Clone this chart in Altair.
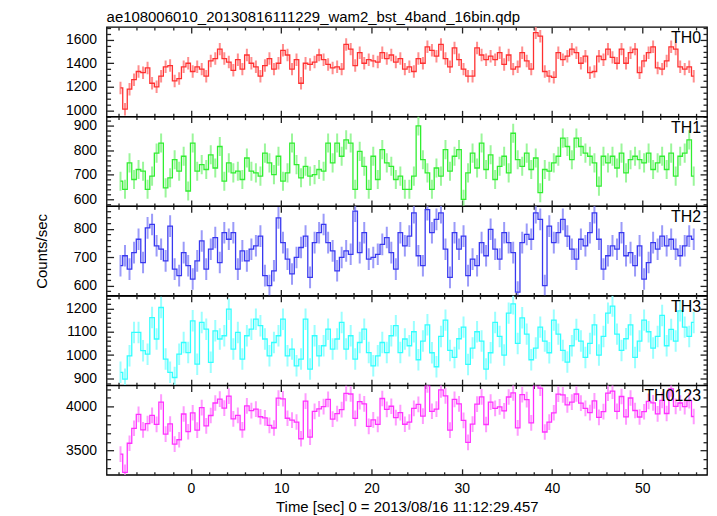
import altair as alt
import pandas as pd

FONT = "Liberation Sans"
TITLE = "ae108006010_20130816111229_wam2_bst_4band_16bin.qdp"
XTITLE = "Time [sec] 0 = 2013/08/16 11:12:29.457"
YTITLE = "Counts/sec"

t_start = -7.8
bin_width = 0.5

names = ["TH0", "TH1", "TH2", "TH3", "TH0123"]

th0 = [1190, 1010, 1180, 1260, 1330, 1320, 1360, 1230, 1200, 1290,
       1370, 1380, 1250, 1270, 1370, 1400, 1330, 1370, 1350, 1290,
       1420, 1440, 1520, 1440, 1410, 1340, 1430, 1350, 1470, 1400,
       1370, 1290, 1380, 1440, 1350, 1400, 1510, 1470, 1350, 1430,
       1230, 1400, 1390, 1410, 1470, 1430, 1390, 1360, 1370, 1350,
       1560, 1520, 1380, 1490, 1400, 1430, 1420, 1410, 1490, 1440,
       1470, 1410, 1440, 1350,
       1370, 1330, 1440, 1400, 1540, 1510, 1460, 1560, 1440, 1370,
       1530, 1430, 1350, 1290, 1290, 1530, 1470, 1430, 1460, 1430,
       1490, 1390, 1470, 1350, 1370, 1490, 1420, 1350, 1660, 1630,
       1330, 1290, 1280, 1490, 1430, 1460, 1520, 1490, 1400, 1460,
       1320, 1330, 1460, 1430, 1520, 1450, 1400, 1520, 1400, 1490,
       1520, 1320, 1420, 1490, 1540, 1360, 1350, 1420, 1540, 1520,
       1370, 1350, 1370, 1290]

th1 = [674, 641, 749, 681, 722, 715, 641, 695, 789, 830,
       647, 688, 762, 715, 776, 634, 830, 715, 742, 722,
       782, 728, 816, 674, 749, 708, 715, 681, 769, 715,
       708, 695, 789, 749, 701, 776, 674, 708, 830, 742,
       688, 735, 695, 701, 722, 715, 830, 749, 830, 776,
       843, 830, 641, 796, 735, 641, 776, 681, 803, 749,
       735, 681, 695, 641,
       641, 695, 900, 762, 708, 641, 728, 695, 803, 715,
       776, 803, 600, 708, 789, 728, 830, 722, 782, 681,
       735, 776, 708, 870, 762, 735, 789, 722, 769, 627,
       722, 715, 749, 776, 850, 816, 762, 850, 816, 789,
       776, 749, 654, 776, 749, 776, 728, 789, 708, 762,
       776, 762, 749, 789, 722, 749, 776, 722, 789, 695,
       776, 789, 843, 695]

th2 = [670, 705, 658, 716, 763, 681, 803, 815, 740, 728,
       687, 809, 658, 635, 716, 670, 623, 687, 757, 658,
       728, 769, 681, 786, 763, 786, 658, 722, 687, 728,
       740, 774, 635, 600, 652, 838, 751, 693, 641, 699,
       734, 774, 629, 751, 786, 815, 751, 722, 652, 699,
       722, 710, 862, 716, 786, 693, 699, 710, 745, 769,
       716, 658, 786, 740,
       774, 856, 705, 670, 867, 786, 833, 856, 728, 629,
       786, 728, 774, 635, 693, 670, 751, 705, 798, 728,
       693, 786, 751, 716, 577, 751, 780, 763, 856, 833,
       600, 809, 751, 786, 833, 774, 728, 693, 763, 740,
       786, 856, 763, 658, 705, 740, 728, 786, 705, 716,
       670, 740, 623, 681, 751, 728, 774, 740, 763, 728,
       705, 740, 774, 763]

th3 = [926, 897, 997, 1097, 1097, 1019, 1004, 1161, 1069, 1204,
       983, 926, 904, 1004, 1054, 1011, 1147, 961, 1140, 1111,
       969, 1104, 1069, 1083, 1197, 1026, 1097, 983, 1083, 1111,
       1154, 1126, 1069, 997, 1054, 1083, 1154, 997, 1026, 954,
       983, 1154, 940, 1083, 997, 1040, 1111, 1026, 1069, 1140,
       1026, 1083, 983, 1054, 1111, 1011, 954, 997, 1054, 1011,
       1083, 1126, 1011, 1069,
       1040, 1100, 980, 1060, 1130, 1010, 950, 1080, 1150, 1020,
       990, 1070, 1120, 960, 1030, 1100, 1060, 940, 1010, 1140,
       1080, 1000, 1180, 1220, 1050, 1160, 1090, 980, 1030, 1120,
       1060, 1010, 1150, 1090, 1020, 970, 1040, 1110, 1060, 990,
       1050, 1130, 1000, 1080, 1180, 1210, 1090, 1020, 1070, 1130,
       990, 1060, 1150, 1100, 1030, 1080, 1170, 1040, 1110, 1060,
       1190, 1120, 1080, 1140]

th0123 = [3460, 3253, 3584, 3754, 3912, 3735, 3808, 3901, 3798, 4052,
          3687, 3803, 3574, 3624, 3916, 3715, 3930, 3733, 3989, 3781,
          3899, 4041, 4086, 3983, 4119, 3860, 3900, 3736, 4009, 3954,
          3972, 3885, 3873, 3786, 3757, 4097, 4089, 3868, 3847, 3825,
          3635, 4063, 3654, 3945, 3975, 4000, 4082, 3857, 3921, 3965,
          4151, 4143, 3866, 4056, 4032, 3775, 3849, 3798, 4092, 3969,
          4004, 3875, 3932, 3800,
          3825, 3981, 4025, 3892, 4245, 3947, 3971, 4191, 4121, 3734,
          4082, 4031, 3844, 3593, 3802, 4028, 4111, 3797, 4050, 3979,
          3998, 3952, 4109, 4156, 3759, 4136, 4079, 3815, 4315, 4210,
          3712, 3824, 3930, 4142, 4133, 4020, 4050, 4143, 4039, 3979,
          3932, 4065, 3877, 3944, 4154, 4176, 3946, 4115, 3883, 4098,
          3956, 3882, 3942, 4060, 4043, 3917, 4070, 3922, 4202, 4003,
          4041, 3999, 4067, 3888]

series = [th0, th1, th2, th3, th0123]
errors = [53, 39, 38, 46, 89]

x_domain = [-9.34, 57.17]
y_domains = [[949, 1708], [573, 938], [565, 879], [871, 1254], [3226, 4240]]
y_major_step = [200, 100, 100, 100, 500]
y_minor_step = [50, 20, 20, 20, 100]

line_colors = ["#ff3030", "#30ee30", "#3838f0", "#30ffff", "#ff30ff"]
bar_colors = ["#ff7a7a", "#8af58a", "#8a8af8", "#8affff", "#ff8aff"]

W = 603
H = 89.7


def tick_values(lo, hi, step):
    start = int(-(-lo // step)) * step
    out = []
    v = start
    while v <= hi:
        out.append(v)
        v += step
    return out


x_major = [v for v in tick_values(x_domain[0], x_domain[1], 10)]
x_minor = [v for v in tick_values(x_domain[0], x_domain[1], 2) if v % 10 != 0]

times = [t_start + bin_width * k for k in range(len(th0))]


def tick_axis(orient, values, size, offset):
    return alt.Axis(orient=orient, values=values, labels=False, domain=False,
                    grid=False, ticks=True, tickSize=size, tickColor="#222",
                    tickWidth=1.3, offset=offset, title=None)


def panel(i):
    df = pd.DataFrame({"t": times, "v": series[i]})
    df["lo"] = df["v"] - errors[i]
    df["hi"] = df["v"] + errors[i]
    xs = alt.Scale(domain=x_domain, nice=False, zero=False)
    ys = alt.Scale(domain=y_domains[i], nice=False, zero=False)
    ymaj = tick_values(y_domains[i][0], y_domains[i][1], y_major_step[i])
    ymin = [v for v in tick_values(y_domains[i][0], y_domains[i][1], y_minor_step[i])
            if v % y_major_step[i] != 0]
    last = i == len(series) - 1

    if last:
        xlab = alt.Axis(orient="bottom", values=x_major, ticks=False, domain=False,
                        grid=False, labelPadding=7, labelFontSize=14, labelFont=FONT,
                        labelColor="#000", labelFlush=False, format="d", title=XTITLE,
                        titleFontSize=15, titleFont=FONT, titleFontWeight="normal",
                        titleColor="#000", titlePadding=4)
    else:
        xlab = None
    ylab_kw = dict(orient="left", values=ymaj, ticks=False, domain=False, grid=False,
                   labelPadding=10, labelFontSize=14, labelFont=FONT, labelColor="#000",
                   labelFlush=False, labelOverlap=False, format="d",
                   minExtent=45, maxExtent=45)
    if i == 2:
        ylab = alt.Axis(title=YTITLE, titleFontSize=15, titleFont=FONT,
                        titleFontWeight="normal", titleColor="#000", titlePadding=12,
                        **ylab_kw)
    else:
        ylab = alt.Axis(title=None, **ylab_kw)

    base = alt.Chart(df)
    bars = base.mark_rule(color=bar_colors[i], strokeWidth=2, opacity=0.85, clip=True).encode(
        x=alt.X("t:Q", scale=xs, axis=xlab),
        y=alt.Y("lo:Q", scale=ys, axis=ylab),
        y2="hi:Q",
    )
    line = base.mark_line(interpolate="step", color=line_colors[i], strokeWidth=1.3,
                          clip=True).encode(
        x=alt.X("t:Q", scale=xs, axis=tick_axis("top", x_major, 6, -H)),
        y=alt.Y("v:Q", scale=ys, axis=tick_axis("right", ymaj, 7, -W)),
    )
    ghost1 = base.mark_line(strokeOpacity=0, clip=True).encode(
        x=alt.X("t:Q", scale=xs, axis=tick_axis("top", x_minor, 3, -H)),
        y=alt.Y("v:Q", scale=ys, axis=tick_axis("right", ymin, 4, -W)),
    )
    ghost2 = base.mark_line(strokeOpacity=0, clip=True).encode(
        x=alt.X("t:Q", scale=xs, axis=tick_axis("bottom", x_major, 6, -H)),
        y=alt.Y("v:Q", scale=ys, axis=tick_axis("left", ymaj, 7, -W)),
    )
    ghost3 = base.mark_line(strokeOpacity=0, clip=True).encode(
        x=alt.X("t:Q", scale=xs, axis=tick_axis("bottom", x_minor, 3, -H)),
        y=alt.Y("v:Q", scale=ys, axis=tick_axis("left", ymin, 4, -W)),
    )
    label = alt.Chart(pd.DataFrame({"label": [names[i]]})).mark_text(
        align="right", baseline="alphabetic", fontSize=16, font=FONT, color="#000"
    ).encode(x=alt.value(W - 6), y=alt.value(16), text="label:N")

    ch = alt.layer(bars, line, ghost1, ghost2, ghost3, label).resolve_axis(
        x="independent", y="independent"
    ).properties(width=W, height=H)
    return ch


chart = alt.vconcat(*[panel(i) for i in range(len(series))], spacing=0,
                    bounds="flush").properties(
    title=alt.TitleParams(text=TITLE, anchor="start", frame="group", fontSize=15,
                          font=FONT, fontWeight="normal", color="#000", offset=-11,
                          baseline="alphabetic"),
    padding={"left": 26, "top": 0, "right": 0, "bottom": 0},
    background="#ffffff",
).configure_view(stroke="#000", strokeWidth=1.3)

chart.save("out.html", embed_options={"renderer": "svg", "actions": False})
